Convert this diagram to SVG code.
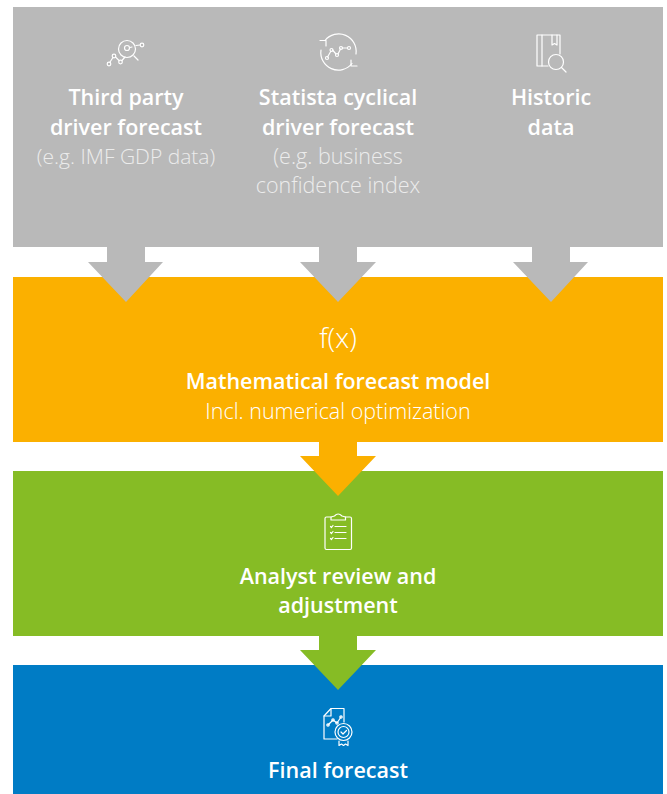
<svg xmlns="http://www.w3.org/2000/svg" width="667" height="794" viewBox="0 0 667 794">
<style>
text{font-family:"Open Sans","Noto Sans",sans-serif;text-anchor:middle;fill:#fff}
.b{font-size:21.5px;font-weight:600}
.l{font-size:21.5px;font-weight:300;fill:#ececec}
.i{fill:none;stroke:#fff;stroke-width:1.200;stroke-linejoin:round;stroke-linecap:round}
</style>
<rect width="667" height="794" fill="#fff"/>
<g id="node-inputs"><rect x="13" y="7" width="650" height="240" fill="#b9b9b9"/></g>
<g id="node-orange"><rect x="13" y="277" width="650" height="165" fill="#fbb000"/>
<text x="338" y="348" style="font-size:28px;font-weight:300">f(x)</text>
<text class="b" x="338" y="389">Mathematical forecast model</text>
<text class="l" x="338" y="419" style="fill:#fff">Incl. numerical optimization</text></g>
<g id="node-green"><rect x="13" y="471" width="650" height="165" fill="#86bc25"/>
<g class="i"><path d="M331 517H326.500Q325 517 325 518.500V548Q325 549.500 326.500 549.500H350Q351.500 549.500 351.500 548V518.500Q351.500 517 350 517H345.500"/><path d="M331 520V517L334.500 516Q338 512 342 516L345.500 517V520Z"/><path d="M335 526.500H346M335 532.500H346M335 538.500H346M330.500 526.500l1 1 1.500-2M330.500 532.500l1 1 1.500-2M330.500 538.500l1 1 1.500-2"/></g>
<text class="b" x="338" y="584">Analyst review and</text>
<text class="b" x="338" y="613">adjustment</text></g>
<g id="node-blue"><rect x="13" y="665" width="650" height="129" fill="#007cc5"/>
<g class="i"><path d="M337 739H324V716L331 708.500H344V722"/><path d="M331 709V716H324"/><path d="M328 725L333 720L337 723L341 717"/><circle cx="328" cy="725" r="1.200"/><circle cx="333" cy="720" r="1.200"/><circle cx="337" cy="723" r="1.200"/><circle cx="341" cy="717" r="1.200"/><circle cx="343.500" cy="732" r="8.500"/><circle cx="343.500" cy="732" r="5.500"/><path d="M341 732l2 2 3.500-3.500M339 741v4.500l2.500-1.500 2 1.500 2-1.500 2.500 1.500v-4.500"/></g>
<text class="b" x="338" y="778">Final forecast</text></g>
<g id="connectors">
<path fill="#b9b9b9" d="M107 247H145V262H163L126 302L88 262H107Z"/>
<path fill="#b9b9b9" d="M319 247H357V262H376L338 302L300 262H319Z"/>
<path fill="#b9b9b9" d="M532 247H570V262H588L551 302L513 262H532Z"/>
<path fill="#fbb000" d="M319 442H357V456H376L338 496L300 456H319Z"/>
<path fill="#86bc25" d="M319 636H357V650H376L338 690L300 650H319Z"/>
</g>
<g id="node-third-party">
<g class="i"><circle cx="127" cy="49" r="8.500"/><circle cx="127" cy="48" r="2.500"/><path d="M130 47.500L132 47M134 56L138 60M136 45.500L140 45"/><circle cx="142" cy="45" r="1.800"/><path d="M110 62L113 57.500M115.500 57L119 60.500M122 60.500L125 57"/><circle cx="109" cy="64" r="1.800"/><circle cx="114" cy="56" r="1.800"/><circle cx="120.500" cy="62" r="1.800"/></g>
<text class="b" x="126" y="105">Third party</text>
<text class="b" x="126" y="135">driver forecast</text>
<text class="l" x="126" y="164" style="font-size:21px">(e.g. IMF GDP data)</text></g>
<g id="node-statista">
<g class="i"><path d="M325 40.500A17.500 17.500 0 0 1 356 54"/><path d="M352 63.500A17.500 17.500 0 0 1 321 50"/><path d="M320 40.500H326V46M357 66H351V60"/><path d="M327.500 57L331 51M332.500 50L336 54M338 54L340.500 49M342 48H347"/><circle cx="327" cy="58" r="1.500"/><circle cx="331.500" cy="50" r="1.500"/><circle cx="337" cy="55" r="1.500"/><circle cx="341" cy="48" r="1.500"/><circle cx="349" cy="48" r="1.500"/></g>
<text class="b" x="338" y="105">Statista cyclical</text>
<text class="b" x="338" y="135">driver forecast</text>
<text class="l" x="338" y="164">(e.g. business</text>
<text class="l" x="338" y="193">confidence index</text></g>
<g id="node-historic">
<g class="i"><path d="M548 66H537V35H560V54"/><path d="M542 35V66"/><path d="M552 35V45L554.500 43.500L557 45V35"/><circle cx="556" cy="62" r="7.500"/><path d="M561.500 67.500L566 72"/></g>
<text class="b" x="551" y="105">Historic</text>
<text class="b" x="551" y="135">data</text></g>
</svg>
